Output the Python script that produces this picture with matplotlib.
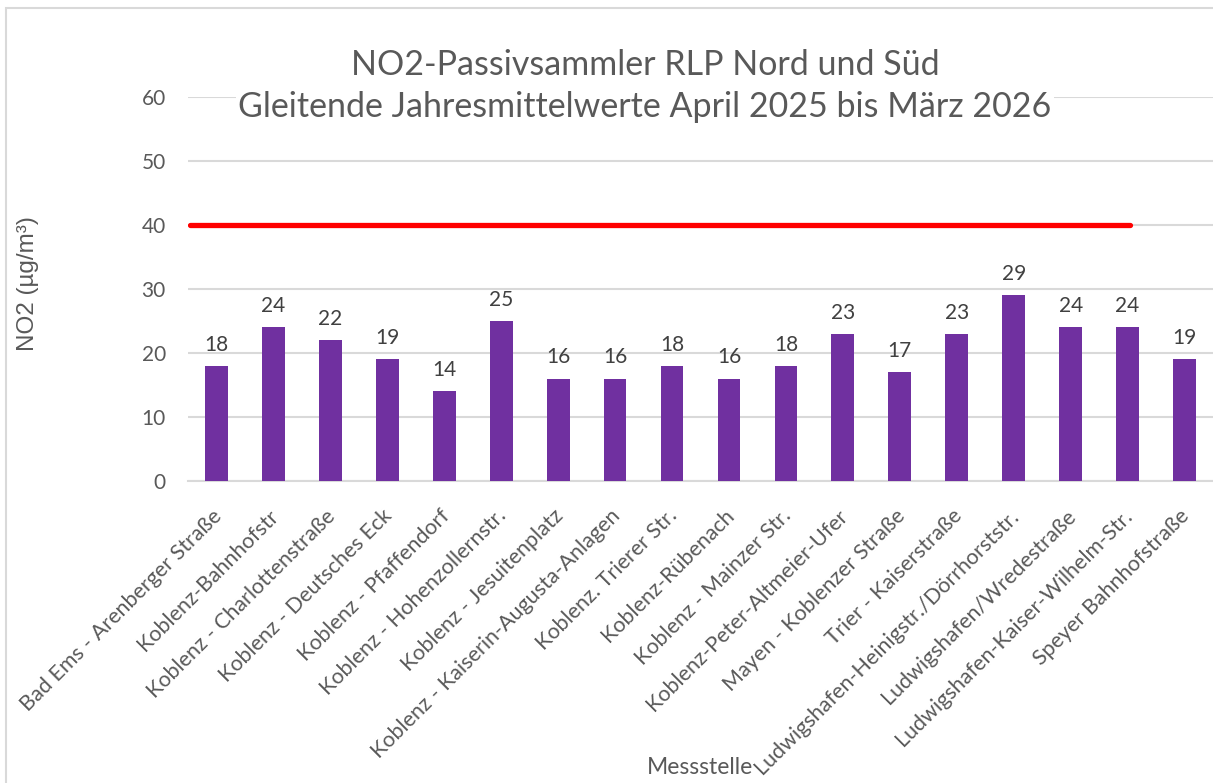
import matplotlib
matplotlib.use("Agg")
import matplotlib.pyplot as plt
import matplotlib.transforms as mtransforms
from matplotlib.patches import Rectangle

stations = [
    "Bad Ems - Arenberger Straße",
    "Koblenz-Bahnhofstr",
    "Koblenz - Charlottenstraße",
    "Koblenz - Deutsches Eck",
    "Koblenz - Pfaffendorf",
    "Koblenz - Hohenzollernstr.",
    "Koblenz - Jesuitenplatz",
    "Koblenz - Kaiserin-Augusta-Anlagen",
    "Koblenz. Trierer Str.",
    "Koblenz-Rübenach",
    "Koblenz - Mainzer Str.",
    "Koblenz-Peter-Altmeier-Ufer",
    "Mayen - Koblenzer Straße",
    "Trier - Kaiserstraße",
    "Ludwigshafen-Heinigstr./Dörrhorststr.",
    "Ludwigshafen/Wredestraße",
    "Ludwigshafen-Kaiser-Wilhelm-Str.",
    "Speyer Bahnhofstraße",
]
no2_values = [18, 24, 22, 19, 14, 25, 16, 16, 18, 16, 18, 23, 17, 23, 29, 24, 24, 19]

limit_value = 40
limit_span = [-0.47, 16.04]

title = "NO2-Passivsammler RLP Nord und Süd\nGleitende Jahresmittelwerte April 2025 bis März 2026"

plt.rcParams['font.family'] = ['Lato', 'DejaVu Sans']
text_grey = '#595959'
grid_grey = '#d9d9d9'

W, H = 1213, 783
fig = plt.figure(figsize=(W / 100, H / 100), dpi=100)
ax = fig.add_axes([188 / W, 1 - 481 / H, (W - 188) / W, (481 - 97) / H])

x = list(range(len(stations)))
ax.bar(x, no2_values, width=0.4, color='#7030a0', zorder=3)
ax.plot(limit_span, [limit_value, limit_value], color='#ff0000', lw=3.8,
        solid_capstyle='round', zorder=4)

for xi, v in zip(x, no2_values):
    ax.annotate(str(v), (xi, v), xytext=(0, 8), textcoords='offset points',
                ha='center', va='bottom', fontsize=15, color='#404040')

ax.set_xlim(-0.5, len(stations) - 0.5)
ax.set_ylim(0, 60)
ax.set_yticks(range(0, 61, 10))
ax.yaxis.grid(True, color=grid_grey, lw=1.5, zorder=0)
ax.set_axisbelow(True)
for s in ['top', 'right', 'left']:
    ax.spines[s].set_visible(False)
ax.spines['bottom'].set_color(grid_grey)
ax.spines['bottom'].set_linewidth(1.5)
ax.tick_params(axis='both', length=0, labelsize=15, labelcolor=text_grey)
ax.tick_params(axis='y', pad=16)

ax.set_xticks(x)
ax.set_xticklabels(stations, rotation=45, ha='right', va='center',
                   rotation_mode='anchor', fontsize=15.5)
offset = mtransforms.ScaledTranslation(2 / 100, -27 / 100, fig.dpi_scale_trans)
for lbl in ax.get_xticklabels():
    lbl.set_transform(lbl.get_transform() + offset)

fig.text(645 / W, 1 - 86 / H, title, ha='center', va='center', fontsize=24.5,
         color=text_grey, linespacing=1.37,
         bbox=dict(facecolor='white', edgecolor='none', pad=2))
fig.text(28 / W, 1 - 284 / H, "NO2 (µg/m³)", rotation=90, ha='center',
         va='center', fontsize=17.5, color=text_grey,
         family=['Liberation Sans', 'DejaVu Sans'])
fig.text(700 / W, 1 - 768 / H, "Messstelle", ha='center', va='center',
         fontsize=16.5, color=text_grey)

fig.patches.append(Rectangle((6 / W, -0.1), 1.2, 1 - 8 / H + 0.1,
                             transform=fig.transFigure, fill=False,
                             edgecolor=grid_grey, lw=1.5))

fig.savefig("out.png", dpi=100)
